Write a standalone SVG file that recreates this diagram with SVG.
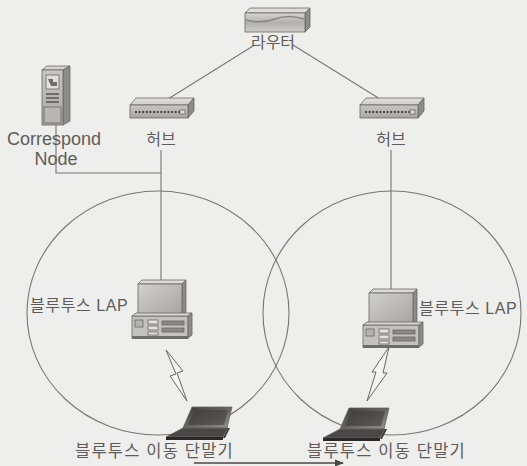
<svg xmlns="http://www.w3.org/2000/svg" width="527" height="466" viewBox="0 0 527 466">
  <defs>
    <style>
      .wire { stroke: #7a7672; stroke-width: 1.1; fill: none; }
      .cell { stroke: #7a7672; stroke-width: 1.1; fill: none; }
      .lbl { font-family: "Liberation Sans", "Noto Sans CJK KR", sans-serif; fill: #5e5c5a; }
      .ko { font-size: 16px; }
      .term { font-size: 16.5px; letter-spacing: 1.2px; }
      .en { font-size: 18px; }
      .edge { stroke: #6a6662; stroke-width: 0.8; }
      .bolt { stroke: #6a6662; stroke-width: 1; fill: #f4f4f2; stroke-linejoin: miter; }
    </style>
    <linearGradient id="gFront" x1="0" y1="0" x2="0" y2="1">
      <stop offset="0" stop-color="#c9c7c4"/>
      <stop offset="1" stop-color="#a9a7a4"/>
    </linearGradient>
    <linearGradient id="gTop" x1="0" y1="0" x2="0" y2="1">
      <stop offset="0" stop-color="#e2e0dd"/>
      <stop offset="1" stop-color="#cfcdca"/>
    </linearGradient>
    <linearGradient id="gScreen" x1="0" y1="0" x2="1" y2="1">
      <stop offset="0" stop-color="#d2d0cd"/>
      <stop offset="1" stop-color="#a6a4a1"/>
    </linearGradient>
    <linearGradient id="gLid" x1="0" y1="0" x2="1" y2="1">
      <stop offset="0" stop-color="#3a3836"/>
      <stop offset="0.6" stop-color="#6f6c69"/>
      <stop offset="1" stop-color="#9a9794"/>
    </linearGradient>
    <linearGradient id="gRouter" x1="0" y1="0" x2="0" y2="1">
      <stop offset="0" stop-color="#d8d6d3"/>
      <stop offset="0.5" stop-color="#b3b1ae"/>
      <stop offset="1" stop-color="#cfcdca"/>
    </linearGradient>
    <marker id="arr" viewBox="0 0 10 10" refX="9" refY="5" markerWidth="7" markerHeight="7" orient="auto">
      <path d="M0,1 L10,5 L0,9 z" fill="#4a4846"/>
    </marker>
    <!-- desktop PC used as access point -->
    <g id="pc">
      <path d="M6,0 L50,0 L46,4 L2,4 z" fill="#dddbd8" class="edge"/>
      <path d="M50,0 L50,32 L46,36 L46,4 z" fill="#8e8c89" class="edge"/>
      <rect x="2" y="4" width="44" height="32" fill="url(#gScreen)" class="edge"/>
      <rect x="-4" y="36" width="56" height="22" fill="#c4c2bf" class="edge"/>
      <path d="M-4,36 L0,33 L56,33 L52,36 z" fill="#d6d4d1" class="edge"/>
      <path d="M52,36 L56,33 L56,55 L52,58 z" fill="#8e8c89" class="edge"/>
      <rect x="-1" y="40" width="8" height="7" fill="#b6b4b1" class="edge"/>
      <rect x="12" y="40" width="10" height="4" fill="#e4e2df" class="edge"/>
      <rect x="12" y="46" width="10" height="4" fill="#e4e2df" class="edge"/>
      <rect x="12" y="52" width="10" height="3" fill="#e4e2df" class="edge"/>
      <rect x="26" y="41" width="22" height="4" fill="#8a8885" class="edge"/>
      <rect x="26" y="48" width="22" height="4" fill="#8a8885" class="edge"/>
      <rect x="-4" y="56" width="56" height="3" fill="#6e6c69"/>
    </g>
    <!-- hub -->
    <g id="hub">
      <path d="M0,7 L6,0 L64,0 L58,7 z" fill="url(#gTop)" class="edge"/>
      <path d="M58,7 L64,0 L64,13 L58,20 z" fill="#8e8c89" class="edge"/>
      <rect x="0" y="7" width="58" height="13" fill="url(#gFront)" class="edge"/>
      <path d="M5,14 h46" stroke="#4a4846" stroke-width="2.2" stroke-dasharray="2 1.6"/>
      <rect x="50" y="12" width="5" height="4" fill="#e0dedb" class="edge"/>
    </g>
    <!-- laptop -->
    <g id="laptop">
      <path d="M9,0 L49,0 L44,21 L0,21 z" fill="url(#gLid)" class="edge"/>
      <path d="M12,3 L45,3 L41,18 L5,18 z" fill="#3e3c3a" opacity="0.6"/>
      <path d="M0,21 L45,21 L40,30 L-17,30 z" fill="#4a4846" class="edge"/>
      <path d="M-17,30 L40,30 L40,33 L-17,33 z" fill="#2a2826"/>
      <path d="M45,21 L47,21 L42,31 L40,31 z" fill="#3a3836"/>
    </g>
  </defs>

  <rect width="527" height="466" fill="#eeeeec"/>

  <!-- links -->
  <g id="connectors">
    <line class="wire" x1="253" y1="46" x2="160" y2="104"/>
    <line class="wire" x1="293" y1="45" x2="388" y2="104"/>
    <line class="wire" x1="161" y1="150" x2="161" y2="281"/>
    <line class="wire" x1="391" y1="150" x2="391" y2="289"/>
    <polyline class="wire" points="56,125 56,173 161,173"/>
    <path class="bolt" d="M166,350 L183,371 L177,373 L187,401 L170,376 L176,374 z"/>
    <path class="bolt" d="M389,347 L383,373 L387,373 L367,401 L376,372 L372,372 z"/>
    <line x1="194" y1="463" x2="343" y2="463" stroke="#4a4846" stroke-width="1.3" marker-end="url(#arr)"/>
  </g>

  <!-- coverage areas -->
  <g id="cells">
    <ellipse class="cell" cx="158" cy="313" rx="131" ry="122"/>
    <ellipse class="cell" cx="392" cy="313" rx="129" ry="122"/>
  </g>

  <g id="router">
    <path d="M245,13 L250,8 L310,8 L305,13 z" fill="#dedcd9" class="edge"/>
    <path d="M305,13 L310,8 L310,27 L305,32 z" fill="#8e8c89" class="edge"/>
    <rect x="245" y="13" width="60" height="19" fill="url(#gRouter)" class="edge"/>
    <path d="M246,20 Q262,24 275,19 T304,19" stroke="#8a8885" stroke-width="1.5" fill="none"/>
    <text class="lbl ko" x="273" y="48" text-anchor="middle">라우터</text>
  </g>

  <g id="correspond-node">
    <path d="M42,70 L47,66 L70,66 L63,70 z" fill="#d6d4d1" class="edge"/>
    <path d="M63,70 L70,66 L70,121 L63,125 z" fill="#8e8c89" class="edge"/>
    <rect x="42" y="70" width="21" height="55" fill="url(#gFront)" class="edge"/>
    <rect x="46" y="75" width="13" height="14" fill="#e2e0dd" class="edge"/>
    <path d="M48,79 h5 v3 h4 v4 h-6 z" fill="#6e6c69"/>
    <rect x="46" y="93" width="13" height="2" fill="#6e6c69"/>
    <rect x="46" y="97" width="13" height="2" fill="#6e6c69"/>
    <rect x="46" y="101" width="13" height="2" fill="#6e6c69"/>
    <rect x="44" y="107" width="17" height="16" fill="#b8b6b3" class="edge"/>
    <text class="lbl en" x="54" y="145" text-anchor="middle">Correspond</text>
    <text class="lbl en" x="56" y="165" text-anchor="middle">Node</text>
  </g>

  <g id="hub-left">
    <use href="#hub" x="130" y="98"/>
    <text class="lbl ko" x="161" y="145" text-anchor="middle">허브</text>
  </g>

  <g id="hub-right">
    <use href="#hub" x="360" y="98"/>
    <text class="lbl ko" x="391" y="145" text-anchor="middle">허브</text>
  </g>

  <g id="lap-left">
    <use href="#pc" x="136" y="280"/>
    <text class="lbl ko" x="30" y="311" style="letter-spacing:0.6px">블루투스 LAP</text>
  </g>

  <g id="lap-right">
    <use href="#pc" x="367" y="289"/>
    <text class="lbl ko" x="419" y="314" style="letter-spacing:0.6px">블루투스 LAP</text>
  </g>

  <g id="mobile-left">
    <use href="#laptop" x="183" y="407"/>
    <text class="lbl term" x="75" y="457">블루투스 이동 단말기</text>
  </g>

  <g id="mobile-right">
    <use href="#laptop" x="340" y="408"/>
    <text class="lbl term" x="307" y="457">블루투스 이동 단말기</text>
  </g>
</svg>
